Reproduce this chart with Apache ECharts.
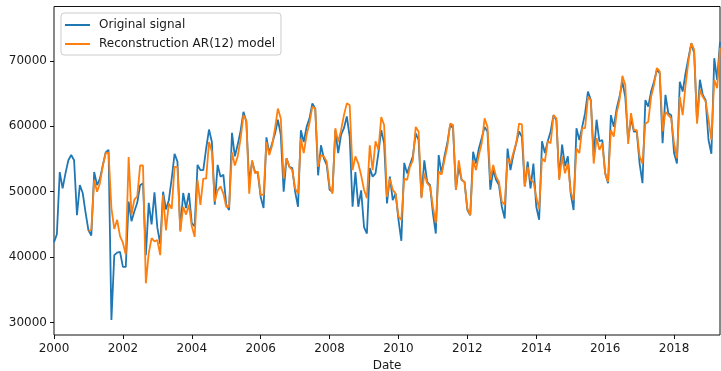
<!DOCTYPE html>
<html>
<head>
<meta charset="utf-8">
<script src="https://cdn.jsdelivr.net/npm/echarts@6/dist/echarts.min.js"></script>
<style>html,body{margin:0;padding:0;background:#fff}#c{width:721px;height:371px}</style>
</head>
<body>
<div id="c"></div>
<script>
// Monthly series, starting January 2000
const startYear = 2000;
const originalSignal = [
  42300, 43500, 53000, 50500, 52800, 54800, 55600, 54800, 46400, 51000, 49800, 46800,
  44100, 43300, 53000, 51000, 52000, 54000, 56000, 56400, 30400, 40300, 40700, 40800,
  38500, 38500, 48500, 45500, 47000, 48300, 51000, 51300, 40300, 48300, 45000, 49900,
  44500, 42000, 50000, 47300, 48700, 52000, 55800, 54600, 44100, 49800, 47500, 49800,
  45200, 44700, 54100, 53300, 53300, 56600, 59500, 57600, 48000, 54100, 52300, 52600,
  48000, 47200, 59000, 55400, 57200, 59300, 62200, 60700, 51300, 54600, 53100, 52800,
  49200, 47500, 58300, 55900, 57400, 58900, 61000, 58700, 50000, 55100, 53800, 53600,
  50000, 47700, 59400, 57600, 59900, 61200, 63500, 62700, 52500, 57100, 55100, 54100,
  50300, 50000, 59400, 55900, 58700, 59700, 61500, 58400, 47700, 53000, 47700, 50200,
  44600, 43600, 53600, 52300, 52800, 55900, 59400, 57400, 48200, 52300, 48700, 49700,
  45700, 42500, 54400, 52800, 54100, 55400, 58900, 57900, 49200, 54800, 51500, 51000,
  46700, 43600, 55600, 52800, 55400, 57400, 60200, 59700, 50300, 53800, 51800, 51500,
  47200, 46400, 56100, 54300, 56600, 58200, 59900, 59200, 50300, 53300, 51800, 51000,
  47700, 45900, 56600, 53300, 55600, 57400, 59200, 58400, 50800, 54600, 50500, 54300,
  47700, 45700, 57700, 55900, 57700, 59200, 61700, 60900, 52100, 57200, 53900, 55400,
  49700, 47200, 59700, 57900, 59900, 62000, 65300, 64000, 55400, 61000, 57700, 57900,
  52800, 51300, 61700, 59900, 62700, 64500, 66800, 64500, 57900, 61200, 59200, 59200,
  54300, 51300, 64000, 63000, 65300, 66800, 68600, 68100, 57400, 64800, 62000, 61700,
  55900, 54300, 66800, 65300, 68100, 70400, 72700, 71200, 60700, 67100, 64800, 64000,
  57900, 55800, 70400, 67100, 72900
];
// AR(12) reconstruction starts one year later (first 12 months have no prediction)
const reconstruction = [
  null, null, null, null, null, null, null, null, null, null, null, null,
  44000, 44200, 51800, 50000, 51300, 54000, 55900, 56000, 47500, 44300, 45700, 43200,
  42200, 40400, 55300, 46500, 48800, 49300, 54000, 54000, 36000, 40600, 42900, 42400,
  42600, 40300, 49500, 44100, 48200, 47400, 53800, 53800, 43900, 47700, 46500, 48000,
  44700, 43100, 51800, 48000, 52000, 52000, 57600, 56100, 48500, 50200, 50800, 49700,
  47700, 47700, 56000, 54000, 55400, 58100, 61700, 60900, 49700, 54800, 52800, 53100,
  49500, 49500, 57600, 55600, 57100, 59700, 62700, 61200, 52000, 55100, 53800, 53300,
  50500, 49700, 58100, 55900, 58700, 60500, 63000, 62700, 53800, 55600, 55400, 54600,
  50800, 49700, 59700, 57600, 59400, 61700, 63500, 63200, 53300, 55400, 54300, 52500,
  50300, 49000, 57100, 53300, 57700, 56400, 61400, 60200, 49200, 52000, 50300, 49700,
  46200, 45700, 52000, 51800, 53800, 54800, 59900, 59200, 49000, 52800, 51300, 50800,
  47700, 45200, 53100, 52600, 54800, 56900, 60400, 60200, 50300, 54800, 51800, 51500,
  47400, 46400, 54800, 53300, 55600, 57400, 61200, 59900, 51800, 54100, 52300, 51500,
  48500, 48000, 55100, 54300, 55900, 57400, 60400, 60300, 50800, 53800, 51800, 51500,
  49200, 47400, 55100, 54600, 57700, 57400, 61700, 61200, 51800, 55400, 52800, 54300,
  50000, 48700, 56600, 55900, 59700, 59700, 64500, 64000, 54300, 58200, 56400, 57400,
  52800, 51500, 59400, 58400, 62000, 64000, 67700, 66300, 57300, 62000, 59400, 59400,
  55400, 54300, 60400, 60700, 64500, 66300, 68900, 68400, 59200, 62200, 61700, 61200,
  57400, 55100, 64500, 61700, 66300, 69900, 72700, 71700, 60400, 65600, 64500, 63800,
  61000, 57900, 67100, 65800, 72000
];
const yTicks = [30000, 40000, 50000, 60000, 70000];
const seriesNames = ['Original signal', 'Reconstruction AR(12) model'];

const months = originalSignal.map((_, i) => {
  const y = startYear + Math.floor(i / 12);
  const m = (i % 12) + 1;
  return y + '-' + (m < 10 ? '0' + m : m);
});
const isTick = (idx) => idx % 24 === 0;

const font = 'DejaVu Sans';
const lineIcon = 'path://M0,0L25,0L25,2L0,2Z';
const chart = echarts.init(document.getElementById('c'), null, {renderer: 'canvas'});
chart.setOption({
  animation: false,
  backgroundColor: '#fff',
  grid: {left: 54, right: 1, top: 6.5, bottom: 36, show: true, borderColor: '#111', borderWidth: 1,
         backgroundColor: 'transparent', containLabel: false, outerBoundsMode: 'none'},
  legend: {
    orient: 'vertical', left: 61, top: 13,
    padding: [5, 6, 4, 4], itemGap: 5, itemWidth: 25, itemHeight: 2,
    icon: lineIcon,
    borderColor: '#cccccc', borderWidth: 1, borderRadius: 3,
    backgroundColor: 'rgba(255,255,255,0.85)',
    textStyle: {fontFamily: font, fontSize: 12, color: '#1a1a1a', padding: [0, 0, 0, 4], lineHeight: 14},
    data: seriesNames
  },
  xAxis: {
    type: 'category', data: months, boundaryGap: false,
    name: 'Date', nameLocation: 'middle', nameGap: 25,
    nameTextStyle: {fontFamily: font, fontSize: 12, color: '#1a1a1a'},
    axisLine: {show: false},
    axisTick: {show: true, interval: (i) => isTick(i), length: 4, lineStyle: {color: '#111'}},
    axisLabel: {interval: (i) => isTick(i), formatter: (v) => v.slice(0, 4), margin: 8,
      fontFamily: font, fontSize: 12, color: '#1a1a1a'},
    splitLine: {show: false}
  },
  yAxis: {
    type: 'value', min: 28100, max: 78300,
    axisLine: {show: false},
    axisTick: {show: true, length: 4, customValues: yTicks, lineStyle: {color: '#111'}},
    axisLabel: {customValues: yTicks, formatter: (v) => String(v), margin: 7,
      fontFamily: font, fontSize: 12, color: '#1a1a1a'},
    splitLine: {show: false}
  },
  series: [
    {name: seriesNames[0], type: 'line', data: originalSignal, symbol: 'none',
     lineStyle: {color: '#1f77b4', width: 1.8}, itemStyle: {color: '#1f77b4'}},
    {name: seriesNames[1], type: 'line', data: reconstruction, symbol: 'none', connectNulls: false,
     lineStyle: {color: '#ff7f0e', width: 1.8}, itemStyle: {color: '#ff7f0e'}}
  ]
});
</script>
</body>
</html>
